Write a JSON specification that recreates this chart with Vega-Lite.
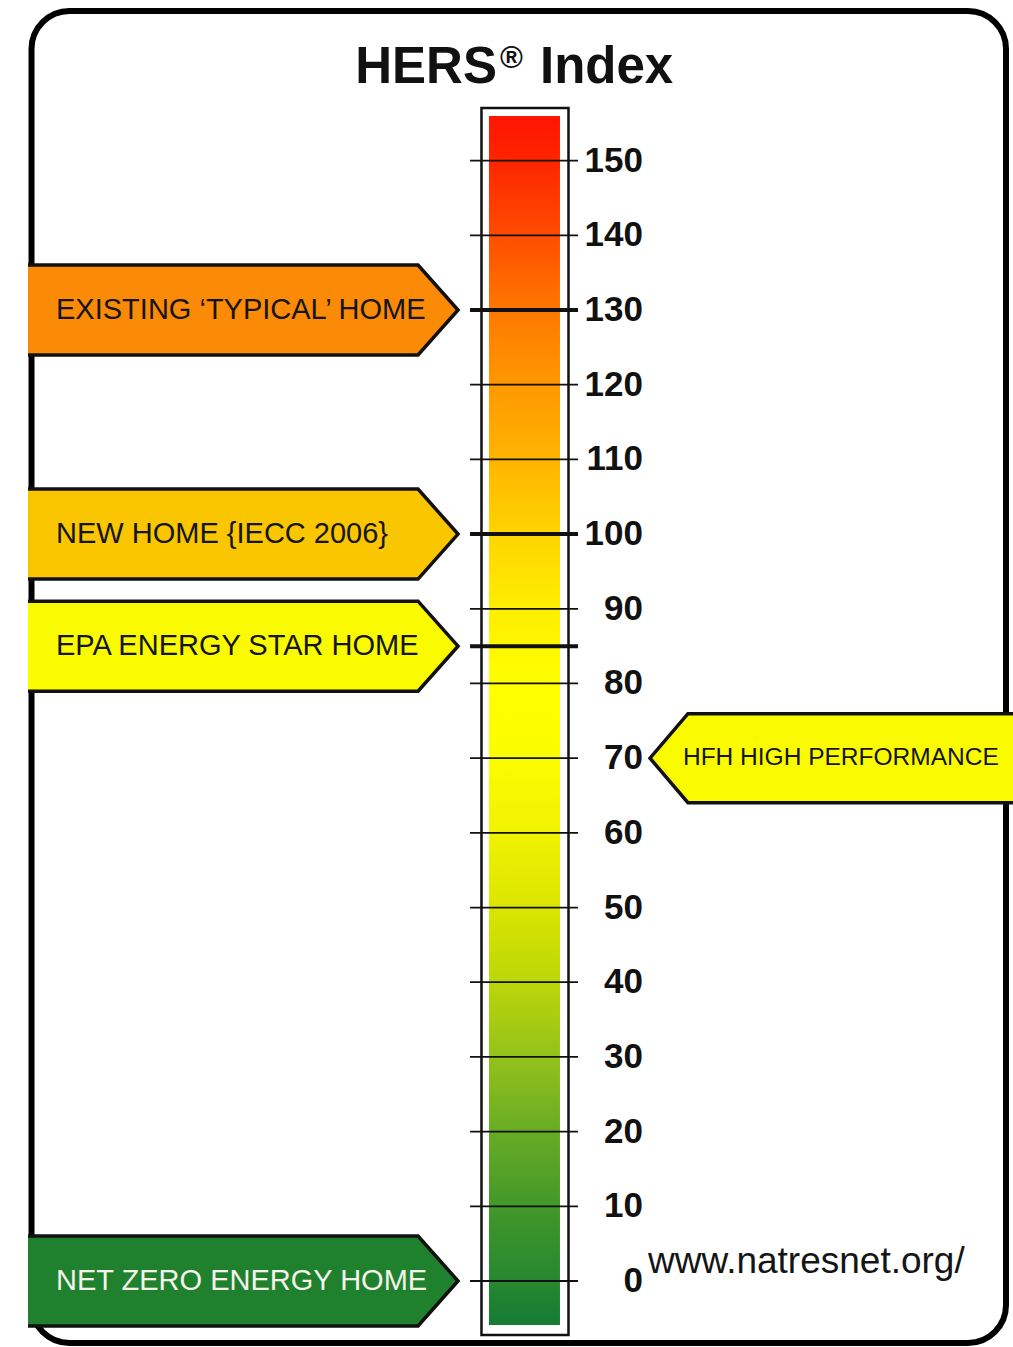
{
  "$schema": "https://vega.github.io/schema/vega-lite/v6.json",
  "width": 1013,
  "height": 1347,
  "padding": 0,
  "autosize": {"type": "none"},
  "background": "white",
  "view": {"stroke": null},
  "config": {"font": "Liberation Sans"},
  "datasets": {
    "ticks": [
      {"v": 150, "label": "150", "marked": false},
      {"v": 140, "label": "140", "marked": false},
      {"v": 130, "label": "130", "marked": true},
      {"v": 120, "label": "120", "marked": false},
      {"v": 110, "label": "110", "marked": false},
      {"v": 100, "label": "100", "marked": true},
      {"v": 90, "label": "90", "marked": false},
      {"v": 85, "label": "", "marked": true},
      {"v": 80, "label": "80", "marked": false},
      {"v": 70, "label": "70", "marked": false},
      {"v": 60, "label": "60", "marked": false},
      {"v": 50, "label": "50", "marked": false},
      {"v": 40, "label": "40", "marked": false},
      {"v": 30, "label": "30", "marked": false},
      {"v": 20, "label": "20", "marked": false},
      {"v": 10, "label": "10", "marked": false},
      {"v": 0, "label": "0", "marked": false}
    ],
    "callouts": [
      {"name": "EXISTING ‘TYPICAL’ HOME", "v": 130, "side": "left"},
      {"name": "NEW HOME {IECC 2006}", "v": 100, "side": "left"},
      {"name": "EPA ENERGY STAR HOME", "v": 85, "side": "left"},
      {"name": "NET ZERO ENERGY HOME", "v": 0, "side": "left"},
      {"name": "HFH HIGH PERFORMANCE", "v": 70, "side": "right"}
    ],
    "titles": [
      {"part": "HERS", "role": "main"},
      {"part": "®", "role": "sup"},
      {"part": "Index", "role": "tail"}
    ],
    "source": [{"url": "www.natresnet.org/"}]
  },
  "layer": [
    {
      "data": {"values": [{}]},
      "mark": {"type": "rect", "fillOpacity": 0, "stroke": "black", "strokeWidth": 6, "cornerRadius": 38},
      "encoding": {
        "x": {"datum": 3.11, "type": "quantitative", "scale": {"domain": [0, 100], "nice": false, "zero": false}, "axis": null},
        "x2": {"datum": 99.31},
        "y": {"datum": 170.04, "type": "quantitative", "scale": {"domain": [-8.84, 171.51], "nice": false, "zero": false}, "axis": null},
        "y2": {"datum": -8.3}
      }
    },
    {
      "data": {"name": "callouts"},
      "transform": [{"filter": "datum.side === 'left'"}],
      "mark": {
        "type": "point",
        "shape": "M -1 0.2093 L 0.814 0.2093 L 1 0 L 0.814 -0.2093 L -1 -0.2093",
        "size": 184900,
        "filled": true,
        "opacity": 1,
        "stroke": "#111111",
        "strokeWidth": 3.5
      },
      "encoding": {
        "x": {"datum": 23.99, "type": "quantitative", "scale": {"domain": [0, 100], "nice": false, "zero": false}, "axis": null},
        "y": {"field": "v", "type": "quantitative", "scale": {"domain": [-8.84, 171.51], "nice": false, "zero": false}, "axis": null},
        "fill": {
          "field": "name", "type": "nominal", "legend": null,
          "scale": {
            "domain": ["EXISTING ‘TYPICAL’ HOME", "NEW HOME {IECC 2006}", "EPA ENERGY STAR HOME", "NET ZERO ENERGY HOME", "HFH HIGH PERFORMANCE"],
            "range": ["#fb8a06", "#f9c600", "#fbfb00", "#1f812e", "#fbfb00"]
          }
        }
      }
    },
    {
      "data": {"name": "callouts"},
      "transform": [{"filter": "datum.side === 'right'"}],
      "mark": {
        "type": "point",
        "shape": "M 1 -0.2438 L -0.792 -0.2438 L -1 0 L -0.792 0.2438 L 1 0.2438",
        "size": 133225,
        "filled": true,
        "opacity": 1,
        "stroke": "#111111",
        "strokeWidth": 3.5
      },
      "encoding": {
        "x": {"datum": 82.18, "type": "quantitative", "scale": {"domain": [0, 100], "nice": false, "zero": false}, "axis": null},
        "y": {"field": "v", "type": "quantitative", "scale": {"domain": [-8.84, 171.51], "nice": false, "zero": false}, "axis": null},
        "fill": {
          "field": "name", "type": "nominal", "legend": null,
          "scale": {
            "domain": ["EXISTING ‘TYPICAL’ HOME", "NEW HOME {IECC 2006}", "EPA ENERGY STAR HOME", "NET ZERO ENERGY HOME", "HFH HIGH PERFORMANCE"],
            "range": ["#fb8a06", "#f9c600", "#fbfb00", "#1f812e", "#fbfb00"]
          }
        }
      }
    },
    {
      "data": {"values": [{}]},
      "mark": {"type": "rect", "fill": "white", "stroke": "#111111", "strokeWidth": 2.5},
      "encoding": {
        "x": {"datum": 47.53, "type": "quantitative", "scale": {"domain": [0, 100], "nice": false, "zero": false}, "axis": null},
        "x2": {"datum": 56.12},
        "y": {"datum": 157.05, "type": "quantitative", "scale": {"domain": [-8.84, 171.51], "nice": false, "zero": false}, "axis": null},
        "y2": {"datum": -7.23}
      }
    },
    {
      "data": {"values": [{}]},
      "mark": {
        "type": "rect",
        "strokeWidth": 0,
        "fill": {
          "gradient": "linear", "x1": 0, "y1": 0, "x2": 0, "y2": 1,
          "stops": [
            {"offset": 0, "color": "#ff1500"},
            {"offset": 0.036, "color": "#ff2400"},
            {"offset": 0.098, "color": "#ff4c00"},
            {"offset": 0.16, "color": "#ff7800"},
            {"offset": 0.222, "color": "#ff9800"},
            {"offset": 0.284, "color": "#ffb400"},
            {"offset": 0.346, "color": "#ffd400"},
            {"offset": 0.408, "color": "#ffee00"},
            {"offset": 0.47, "color": "#ffff00"},
            {"offset": 0.531, "color": "#fcfc00"},
            {"offset": 0.592, "color": "#f0f200"},
            {"offset": 0.654, "color": "#dbe600"},
            {"offset": 0.716, "color": "#bcd608"},
            {"offset": 0.778, "color": "#94c21a"},
            {"offset": 0.84, "color": "#68ac24"},
            {"offset": 0.902, "color": "#42982a"},
            {"offset": 0.964, "color": "#268830"},
            {"offset": 1, "color": "#177b34"}
          ]
        }
      },
      "encoding": {
        "x": {"datum": 48.27, "type": "quantitative", "scale": {"domain": [0, 100], "nice": false, "zero": false}, "axis": null},
        "x2": {"datum": 55.28},
        "y": {"datum": 155.97, "type": "quantitative", "scale": {"domain": [-8.84, 171.51], "nice": false, "zero": false}, "axis": null},
        "y2": {"datum": -5.89}
      }
    },
    {
      "data": {"name": "ticks"},
      "mark": {"type": "rule", "color": "#111111"},
      "encoding": {
        "x": {"datum": 46.4, "type": "quantitative", "scale": {"domain": [0, 100], "nice": false, "zero": false}, "axis": null},
        "x2": {"datum": 57.06},
        "y": {"field": "v", "type": "quantitative", "scale": {"domain": [-8.84, 171.51], "nice": false, "zero": false}, "axis": null},
        "strokeWidth": {"condition": {"test": "datum.marked", "value": 4}, "value": 1.8}
      }
    },
    {
      "data": {"name": "ticks"},
      "mark": {"type": "text", "align": "right", "baseline": "middle", "fontSize": 35, "fontWeight": "bold", "color": "#111111"},
      "encoding": {
        "x": {"datum": 63.47, "type": "quantitative", "scale": {"domain": [0, 100], "nice": false, "zero": false}, "axis": null},
        "y": {"field": "v", "type": "quantitative", "scale": {"domain": [-8.84, 171.51], "nice": false, "zero": false}, "axis": null},
        "text": {"field": "label"}
      }
    },
    {
      "data": {"name": "callouts"},
      "transform": [{"filter": "datum.side === 'left'"}],
      "mark": {"type": "text", "align": "left", "baseline": "middle", "fontSize": 29},
      "encoding": {
        "x": {"datum": 5.53, "type": "quantitative", "scale": {"domain": [0, 100], "nice": false, "zero": false}, "axis": null},
        "y": {"field": "v", "type": "quantitative", "scale": {"domain": [-8.84, 171.51], "nice": false, "zero": false}, "axis": null},
        "text": {"field": "name"},
        "color": {"condition": {"test": "datum.v === 0", "value": "#f4f4ea"}, "value": "#151515"}
      }
    },
    {
      "data": {"name": "callouts"},
      "transform": [{"filter": "datum.side === 'right'"}],
      "mark": {"type": "text", "align": "left", "baseline": "middle", "fontSize": 24.5, "color": "#151515"},
      "encoding": {
        "x": {"datum": 67.42, "type": "quantitative", "scale": {"domain": [0, 100], "nice": false, "zero": false}, "axis": null},
        "y": {"field": "v", "type": "quantitative", "scale": {"domain": [-8.84, 171.51], "nice": false, "zero": false}, "axis": null},
        "text": {"field": "name"}
      }
    },
    {
      "data": {"name": "titles"},
      "transform": [{"filter": "datum.role === 'main'"}],
      "mark": {"type": "text", "align": "right", "baseline": "alphabetic", "fontSize": 51, "fontWeight": "bold", "color": "#111111"},
      "encoding": {
        "x": {"datum": 49.06, "type": "quantitative", "scale": {"domain": [0, 100], "nice": false, "zero": false}, "axis": null},
        "y": {"datum": 160.4, "type": "quantitative", "scale": {"domain": [-8.84, 171.51], "nice": false, "zero": false}, "axis": null},
        "text": {"field": "part"}
      }
    },
    {
      "data": {"name": "titles"},
      "transform": [{"filter": "datum.role === 'sup'"}],
      "mark": {"type": "text", "align": "left", "baseline": "alphabetic", "fontSize": 31, "fontWeight": "bold", "color": "#111111"},
      "encoding": {
        "x": {"datum": 49.36, "type": "quantitative", "scale": {"domain": [0, 100], "nice": false, "zero": false}, "axis": null},
        "y": {"datum": 162.4, "type": "quantitative", "scale": {"domain": [-8.84, 171.51], "nice": false, "zero": false}, "axis": null},
        "text": {"field": "part"}
      }
    },
    {
      "data": {"name": "titles"},
      "transform": [{"filter": "datum.role === 'tail'"}],
      "mark": {"type": "text", "align": "left", "baseline": "alphabetic", "fontSize": 51, "fontWeight": "bold", "color": "#111111"},
      "encoding": {
        "x": {"datum": 53.31, "type": "quantitative", "scale": {"domain": [0, 100], "nice": false, "zero": false}, "axis": null},
        "y": {"datum": 160.4, "type": "quantitative", "scale": {"domain": [-8.84, 171.51], "nice": false, "zero": false}, "axis": null},
        "text": {"field": "part"}
      }
    },
    {
      "data": {"name": "source"},
      "mark": {"type": "text", "align": "left", "baseline": "alphabetic", "fontSize": 37, "color": "#151515"},
      "encoding": {
        "x": {"datum": 63.97, "type": "quantitative", "scale": {"domain": [0, 100], "nice": false, "zero": false}, "axis": null},
        "y": {"datum": 1.07, "type": "quantitative", "scale": {"domain": [-8.84, 171.51], "nice": false, "zero": false}, "axis": null},
        "text": {"field": "url"}
      }
    }
  ]
}
